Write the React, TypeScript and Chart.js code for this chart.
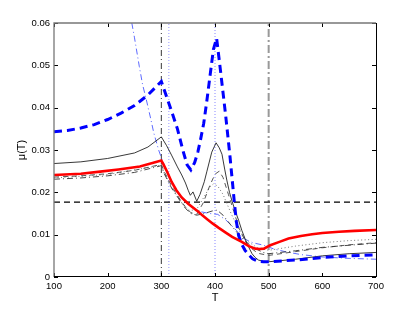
import { useEffect, useRef } from 'react';
import { Chart, registerables } from 'chart.js';

Chart.register(...registerables);

// ---- axis ticks ----
const xTickValues = [100, 200, 300, 400, 500, 600, 700];
const yTickValues = [0, 0.01, 0.02, 0.03, 0.04, 0.05, 0.06];

// ---- thick blue dashed ----
const blueDashedT = [100, 125, 150, 175, 200, 225, 250, 275, 300, 310, 320, 330, 340, 348, 355, 362, 368, 373, 379, 385, 391, 397, 403, 410, 420, 428, 436, 440, 444, 450, 456, 463, 470, 480, 490, 500, 550, 600, 650, 700];
const blueDashedMu = [0.0343, 0.0346, 0.0352, 0.036, 0.0372, 0.0387, 0.0405, 0.043, 0.0462, 0.0425, 0.0388, 0.035, 0.03, 0.0265, 0.0253, 0.027, 0.0295, 0.0324, 0.0363, 0.0418, 0.0478, 0.0537, 0.0564, 0.049, 0.038, 0.0284, 0.0177, 0.013, 0.0098, 0.0077, 0.0063, 0.0052, 0.0043, 0.0037, 0.0036, 0.0036, 0.004, 0.0046, 0.005, 0.0052];

// ---- thick red solid ----
const redT = [100, 150, 186, 220, 260, 300, 304, 311, 319, 328, 338, 350, 360, 369, 377, 386, 396, 407, 420, 432, 450, 463, 475, 483, 491, 503, 520, 537, 560, 581, 600, 631, 660, 700];
const redMu = [0.0241, 0.0244, 0.0249, 0.0254, 0.0261, 0.0275, 0.0266, 0.0248, 0.0225, 0.0205, 0.0188, 0.0173, 0.0163, 0.0154, 0.0145, 0.0136, 0.0126, 0.0116, 0.0105, 0.0095, 0.0083, 0.0073, 0.0067, 0.0066, 0.0067, 0.0075, 0.0083, 0.0091, 0.0097, 0.0101, 0.0104, 0.0107, 0.0109, 0.0111];

// ---- thin black solid ----
const blackT = [100, 150, 200, 250, 275, 300, 310, 319, 330, 338, 345, 350, 354, 359, 366, 372, 380, 385, 394, 402, 408, 413, 418, 422, 427, 432, 438, 444, 450, 457, 463, 469, 475, 481, 490, 500, 550, 600, 650, 700];
const blackMu = [0.0268, 0.0272, 0.028, 0.0293, 0.0307, 0.0331, 0.031, 0.0288, 0.026, 0.0241, 0.0222, 0.0205, 0.0193, 0.0201, 0.0179, 0.0195, 0.0225, 0.025, 0.0295, 0.0317, 0.0305, 0.029, 0.0255, 0.0229, 0.02, 0.0178, 0.0155, 0.0134, 0.011, 0.0087, 0.007, 0.0055, 0.0046, 0.004, 0.0037, 0.0036, 0.0042, 0.005, 0.0055, 0.0058];

// ---- thin black dash-dot ----
const dashDotT = [100, 150, 200, 250, 300, 305, 320, 335, 345, 355, 366, 380, 395, 404, 415, 430, 450, 470, 490, 500, 550, 600, 650, 700];
const dashDotMu = [0.0231, 0.0234, 0.0239, 0.0247, 0.0263, 0.0245, 0.0208, 0.018, 0.0162, 0.015, 0.0146, 0.015, 0.0156, 0.0158, 0.0146, 0.0122, 0.0092, 0.007, 0.0058, 0.0055, 0.0062, 0.007, 0.0075, 0.008];

// ---- thin black dashed ----
const dashedT = [100, 150, 200, 250, 300, 305, 320, 335, 345, 355, 366, 378, 390, 400, 408, 415, 425, 435, 445, 460, 480, 500, 550, 600, 650, 700];
const dashedMu = [0.0236, 0.0239, 0.0244, 0.0252, 0.0266, 0.025, 0.0213, 0.0183, 0.0165, 0.0152, 0.0148, 0.0175, 0.0215, 0.0243, 0.025, 0.0235, 0.0195, 0.0155, 0.0115, 0.0075, 0.0056, 0.0051, 0.006, 0.0069, 0.0076, 0.0081];

// ---- thin gray dotted ----
const dottedT = [100, 200, 300, 305, 320, 335, 350, 365, 380, 390, 397, 405, 415, 430, 445, 460, 480, 500, 550, 600, 650, 700];
const dottedMu = [0.0234, 0.0242, 0.0264, 0.0247, 0.021, 0.018, 0.0158, 0.0158, 0.019, 0.0212, 0.022, 0.0215, 0.0195, 0.015, 0.011, 0.0085, 0.0068, 0.0063, 0.0073, 0.0081, 0.0086, 0.0089];

// ---- thin blue dash-dot ----
const blueDashDotT = [245, 250, 259, 265, 272, 280, 286, 295, 300, 310, 320, 335, 350, 370, 390, 405, 420, 440, 453, 470, 491, 510, 534, 560, 602, 650, 700];
const blueDashDotMu = [0.06, 0.0565, 0.0497, 0.0455, 0.0419, 0.0375, 0.034, 0.03, 0.0282, 0.025, 0.0222, 0.019, 0.017, 0.0155, 0.015, 0.0148, 0.0135, 0.011, 0.0091, 0.0081, 0.0075, 0.0066, 0.0059, 0.0053, 0.0047, 0.0044, 0.0042];

// ---- reference lines ----
const vLine300T = [300, 300];
const vLine314T = [314, 314];
const vLine400T = [400, 400];
const vLine500T = [500, 500];
const vLineMu = [0, 0.06];
const hLineT = [100, 700];
const hLineMu = [0.0177, 0.0177];

const pts = (t: number[], m: number[]) => t.map((x, i) => ({ x, y: m[i] }));

export default function App() {
  const ref = useRef<HTMLCanvasElement>(null);
  useEffect(() => {
    if (!ref.current) return;
    const framePlugin = {
      id: 'frame',
      afterDraw(chart: any) {
        const { ctx, chartArea: a, scales } = chart;
        ctx.save();
        ctx.strokeStyle = '#000';
        ctx.lineWidth = 1;
        ctx.beginPath();
        for (const v of xTickValues) {
          const px = Math.round(scales.x.getPixelForValue(v)) + 0.5;
          ctx.moveTo(px, a.bottom);
          ctx.lineTo(px, a.bottom - 4);
          ctx.moveTo(px, a.top);
          ctx.lineTo(px, a.top + 4);
        }
        for (const v of yTickValues) {
          const py = Math.round(scales.y.getPixelForValue(v)) + 0.5;
          ctx.moveTo(a.left, py);
          ctx.lineTo(a.left + 4, py);
          ctx.moveTo(a.right, py);
          ctx.lineTo(a.right - 4, py);
        }
        ctx.stroke();
        // frame: top & left grey, right & bottom black
        ctx.strokeStyle = '#777';
        ctx.lineWidth = 1.3;
        ctx.beginPath();
        ctx.moveTo(a.left, a.bottom);
        ctx.lineTo(a.left, a.top);
        ctx.lineTo(a.right, a.top);
        ctx.stroke();
        ctx.strokeStyle = '#000';
        ctx.lineWidth = 1;
        ctx.beginPath();
        ctx.moveTo(a.left, a.bottom - 0.5);
        ctx.lineTo(a.right + 0.5, a.bottom - 0.5);
        ctx.lineTo(a.right + 0.5, a.top);
        ctx.stroke();
        ctx.restore();
      },
    };

    const thin = (label: string, data: any, color: string, dash: number[], width = 0.9) => ({
      label,
      data,
      borderColor: color,
      borderWidth: width,
      borderDash: dash,
      pointRadius: 0,
      fill: false,
      tension: 0,
    });

    const chart = new Chart(ref.current, {
      type: 'line',
      data: {
        datasets: [
          thin('red', pts(redT, redMu), '#ff0000', [], 2.6),
          thin('blueDashed', pts(blueDashedT, blueDashedMu), '#0000ff', [8, 5], 3),
          thin('black', pts(blackT, blackMu), '#222', [], 0.9),
          thin('dashDot', pts(dashDotT, dashDotMu), '#333', [6, 3, 1, 3], 0.9),
          thin('dashed', pts(dashedT, dashedMu), '#444', [5, 4], 0.9),
          thin('dotted', pts(dottedT, dottedMu), '#666', [1, 2.5], 0.9),
          thin('blueDashDot', pts(blueDashDotT, blueDashDotMu), '#3344ff', [6, 3, 1, 3], 0.8),
          thin('hLine', pts(hLineT, hLineMu), '#000', [6, 4], 1.2),
          thin('v300', pts(vLine300T, vLineMu), '#222', [6, 3, 1, 3], 0.9),
          thin('v314', pts(vLine314T, vLineMu), '#9999ff', [1, 2], 1),
          thin('v400', pts(vLine400T, vLineMu), '#8888ff', [1, 2], 1),
          thin('v500', pts(vLine500T, vLineMu), '#999', [8, 3, 2, 3], 2),
        ],
      },
      options: {
        responsive: false,
        animation: false,
        events: [],
        layout: { padding: { left: 0, top: 23, right: 39, bottom: 0 } },
        plugins: { legend: { display: false }, tooltip: { enabled: false } },
        scales: {
          x: {
            type: 'linear',
            min: 100,
            max: 700,
            afterFit: (s: any) => { s.height = 35; },
            afterBuildTicks: (s: any) => { s.ticks = xTickValues.map((v) => ({ value: v })); },
            grid: { display: false, drawTicks: false },
            border: { display: false },
            ticks: {
              padding: 4,
              color: '#000',
              font: { family: 'Liberation Sans', size: 9.5 },
              maxRotation: 0,
              callback: (v: any) => String(v),
            },
            title: {
              display: true,
              text: 'T',
              color: '#000',
              font: { family: 'Liberation Sans', size: 11 },
              padding: { top: 0, bottom: 7.4 },
            },
          },
          y: {
            type: 'linear',
            min: 0,
            max: 0.06,
            afterFit: (s: any) => { s.width = 54; },
            afterBuildTicks: (s: any) => { s.ticks = yTickValues.map((v) => ({ value: v })); },
            grid: { display: false, drawTicks: false },
            border: { display: false },
            ticks: {
              padding: 4,
              color: '#000',
              font: { family: 'Liberation Sans', size: 9.5 },
              callback: (v: any) => (v === 0 ? '0' : Number(v).toFixed(2)),
            },
            title: {
              display: true,
              text: 'μ(T)',
              color: '#000',
              font: { family: 'Liberation Sans', size: 11 },
              padding: { top: 15.4, bottom: 0 },
            },
          },
        },
      },
      plugins: [framePlugin],
    } as any);
    return () => chart.destroy();
  }, []);

  return (
    <div style={{ position: 'fixed', left: 0, top: 0, width: 415, height: 312, background: '#fff' }}>
      <canvas ref={ref} width={415} height={312} style={{ width: 415, height: 312, display: 'block' }} />
    </div>
  );
}
